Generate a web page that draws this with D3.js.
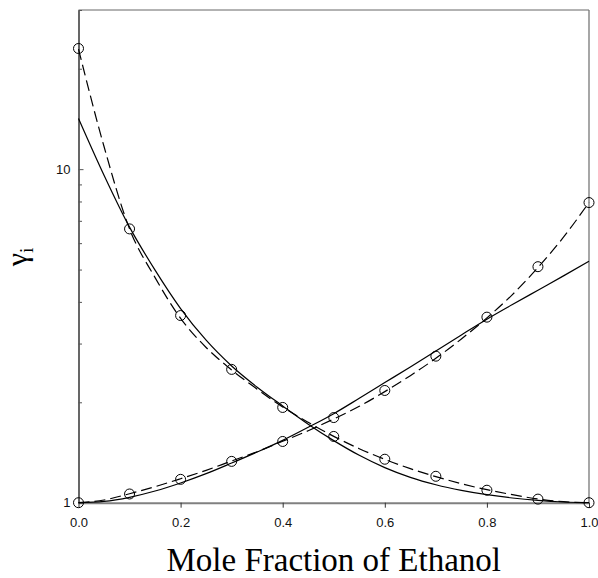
<!DOCTYPE html>
<html>
<head>
<meta charset="utf-8">
<script src="https://cdn.jsdelivr.net/npm/d3@7"></script>
<style>
  body { margin: 0; background: #fff; }
  svg { display: block; }
</style>
</head>
<body>
<div class="chart"></div>
<script>
// measured points (circles)
const xPoints = [0, 0.1, 0.2, 0.3, 0.4, 0.5, 0.6, 0.7, 0.8, 0.9, 1.0];
const gammaDecPts = [23.0, 6.62, 3.64, 2.51, 1.93, 1.58, 1.35, 1.20, 1.09, 1.025, 1.0];
const gammaIncPts = [1.0, 1.062, 1.175, 1.33, 1.526, 1.80, 2.17, 2.75, 3.60, 5.10, 7.94];

// fitted curves
const xFit = [0, 0.05, 0.1, 0.15, 0.2, 0.25, 0.3, 0.35, 0.4, 0.45, 0.5,
              0.55, 0.6, 0.65, 0.7, 0.75, 0.8, 0.85, 0.9, 0.95, 1.0];
const solidDec = [14.19, 9.59, 6.70, 4.98, 3.82, 3.07, 2.57, 2.22, 1.95, 1.72, 1.535,
                  1.387, 1.274, 1.191, 1.132, 1.089, 1.057, 1.033, 1.016, 1.005, 1.0];
const dashedDec = [22.9, 11.69, 6.62, 4.73, 3.57, 2.92, 2.50, 2.19, 1.936, 1.742, 1.581,
                   1.452, 1.349, 1.265, 1.197, 1.140, 1.094, 1.057, 1.026, 1.007, 1.0];
const solidInc = [1.0, 1.009, 1.038, 1.084, 1.146, 1.222, 1.315, 1.419, 1.538, 1.683, 1.849,
                  2.056, 2.291, 2.553, 2.851, 3.184, 3.548, 3.926, 4.335, 4.786, 5.297];
const dashedInc = [1.0, 1.019, 1.064, 1.117, 1.180, 1.250, 1.334, 1.422, 1.528, 1.644, 1.782,
                   1.945, 2.153, 2.404, 2.710, 3.097, 3.581, 4.207, 5.070, 6.252, 7.943];

const xTicks = [0, 0.2, 0.4, 0.6, 0.8, 1.0];
const yMajorTicks = [1, 10];
const yMinorTicks = [2, 3, 4, 5, 6, 7, 8, 9, 20, 30];

const serifFont = '"Liberation Serif", "DejaVu Serif", "Times New Roman", Times, serif';
const sansFont = '"Liberation Sans", Arial, Helvetica, sans-serif';

const dims = {
    width: 598,
    height: 578,
    left: 78.5,
    right: 589,
    top: 10,
    bottom: 502.7,
};

const svg = d3.select('.chart')
    .append('svg')
    .attr('width', dims.width)
    .attr('height', dims.height);

const xScale = d3.scaleLinear()
    .domain([0, 1])
    .range([dims.left, dims.right]);

const yScale = d3.scaleLog()
    .domain([1, 30])
    .range([dims.bottom, dims.top]);

// frame (top + right in grey)
svg.append('line')
    .attr('x1', dims.left).attr('x2', dims.right)
    .attr('y1', dims.top).attr('y2', dims.top)
    .attr('stroke', '#666').attr('stroke-width', 1);
svg.append('line')
    .attr('x1', dims.right).attr('x2', dims.right)
    .attr('y1', dims.top).attr('y2', dims.bottom)
    .attr('stroke', '#777').attr('stroke-width', 1.3);

// x axis
const xAxis = d3.axisBottom(xScale)
    .tickValues(xTicks)
    .tickFormat(d3.format('.1f'))
    .tickSizeInner(5)
    .tickSizeOuter(0)
    .tickPadding(10);

const gx = svg.append('g')
    .attr('transform', `translate(0, ${dims.bottom})`)
    .call(xAxis)
    .attr('font-family', sansFont)
    .attr('font-size', 13);
gx.select('.domain').attr('stroke', '#808080').attr('stroke-width', 2);
gx.selectAll('.tick line').attr('stroke', '#333');
gx.selectAll('text').attr('fill', '#111');

// y axis, ticks pointing inward
const yAxis = d3.axisLeft(yScale)
    .tickValues(yMajorTicks)
    .tickFormat(d3.format('d'))
    .tickSizeInner(-5)
    .tickSizeOuter(0)
    .tickPadding(8);

const gy = svg.append('g')
    .attr('transform', `translate(${dims.left}, 0)`)
    .call(yAxis)
    .attr('font-family', sansFont)
    .attr('font-size', 13);
gy.select('.domain').attr('stroke', '#000').attr('stroke-width', 1.2);
gy.selectAll('.tick line').attr('stroke', '#555');
gy.selectAll('text').attr('fill', '#111');

const yMinor = d3.axisLeft(yScale)
    .tickValues(yMinorTicks)
    .tickFormat('')
    .tickSizeInner(-3.5)
    .tickSizeOuter(0);

const gym = svg.append('g')
    .attr('transform', `translate(${dims.left}, 0)`)
    .call(yMinor);
gym.select('.domain').remove();
gym.selectAll('.tick line').attr('stroke', '#555');

// curves
const lineGenerator = d3.line()
    .x(d => xScale(d.x))
    .y(d => yScale(d.y))
    .curve(d3.curveMonotoneX);

const series = [
    { values: solidDec, dash: null },
    { values: solidInc, dash: null },
    { values: dashedDec, dash: '11,5' },
    { values: dashedInc, dash: '11,5' },
];

series.forEach(s => {
    const lineData = xFit.map((x, i) => ({ x: x, y: s.values[i] }));
    svg.append('path')
        .attr('d', lineGenerator(lineData))
        .attr('fill', 'none')
        .attr('stroke', '#000')
        .attr('stroke-width', 1.2)
        .attr('stroke-dasharray', s.dash);
});

// data points
[gammaDecPts, gammaIncPts].forEach(arr => {
    svg.append('g')
        .selectAll('circle')
        .data(xPoints.map((x, i) => ({ x: x, y: arr[i] })))
        .join('circle')
        .attr('cx', d => xScale(d.x))
        .attr('cy', d => yScale(d.y))
        .attr('r', 5)
        .attr('fill', 'none')
        .attr('stroke', '#000')
        .attr('stroke-width', 1);
});

// axis titles
svg.append('text')
    .attr('x', (dims.left + dims.right) / 2)
    .attr('y', 571)
    .attr('text-anchor', 'middle')
    .attr('font-family', serifFont)
    .attr('font-size', 33)
    .attr('fill', '#000')
    .text('Mole Fraction of Ethanol');

const yTitle = svg.append('text')
    .attr('transform', 'translate(27, 257) rotate(-90)')
    .attr('text-anchor', 'middle')
    .attr('font-family', serifFont)
    .attr('font-size', 30)
    .attr('fill', '#000');
yTitle.append('tspan').text('γ');
yTitle.append('tspan')
    .attr('font-size', 19)
    .attr('dy', 6)
    .text('i');
</script>
</body>
</html>
